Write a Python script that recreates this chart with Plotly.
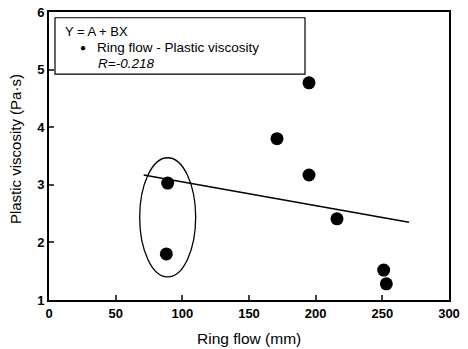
import plotly.graph_objects as go

ring_flow = [88, 89, 171, 195, 195, 216, 251, 253]
plastic_visc = [1.80, 3.03, 3.80, 4.77, 3.17, 2.41, 1.52, 1.28]

fit_x = [71, 270]
fit_y = [3.17, 2.35]

x_ticks = [0, 50, 100, 150, 200, 250, 300]
y_ticks = [1, 2, 3, 4, 5, 6]

FONT = "Liberation Sans, Arial, sans-serif"

fig = go.Figure()
fig.add_trace(go.Scatter(x=fit_x, y=fit_y, mode="lines",
                         line=dict(color="black", width=1.5), showlegend=False))
fig.add_trace(go.Scatter(x=ring_flow, y=plastic_visc, mode="markers",
                         marker=dict(color="black", size=13), showlegend=False))

# ellipse around the two low-flow points
fig.add_shape(type="circle", xref="x", yref="y", x0=68, x1=110, y0=1.40, y1=3.47,
              line=dict(color="black", width=1.3))
# legend box
fig.add_shape(type="rect", xref="x", yref="y", x0=4.5, x1=192, y0=4.92, y1=5.90,
              line=dict(color="black", width=1.2), fillcolor="white")

fig.add_annotation(x=10.5, y=5.67, xref="x", yref="y", text="Y = A + BX", showarrow=False,
                   xanchor="left", font=dict(family=FONT, size=13, color="black"))
fig.add_annotation(x=25.5, y=5.38, xref="x", yref="y", text="●", showarrow=False,
                   xanchor="center", font=dict(family=FONT, size=10, color="black"))
fig.add_annotation(x=34.5, y=5.38, xref="x", yref="y", text="Ring flow - Plastic viscosity",
                   showarrow=False, xanchor="left", font=dict(family=FONT, size=13.5, color="black"))
fig.add_annotation(x=35, y=5.10, xref="x", yref="y", text="<i>R=-0.218</i>", showarrow=False,
                   xanchor="left", font=dict(family=FONT, size=13.5, color="black"))

# axis titles
fig.add_annotation(x=0.5, y=-0.132, xref="paper", yref="paper", text="Ring flow (mm)",
                   showarrow=False, xanchor="center", yanchor="middle",
                   font=dict(family=FONT, size=15.5, color="black"))
fig.add_annotation(x=-0.085, y=0.524, xref="paper", yref="paper", text="Plastic viscosity (Pa·s)",
                   showarrow=False, xanchor="center", yanchor="middle", textangle=-90,
                   font=dict(family=FONT, size=15, color="black"))

fig.update_layout(
    width=468, height=349,
    margin=dict(l=49, r=19, t=12, b=49, autoexpand=False),
    paper_bgcolor="white", plot_bgcolor="white",
    font=dict(family=FONT, size=13, color="black"),
    showlegend=False,
)
fig.update_xaxes(range=[0, 300], tickvals=x_ticks, ticks="inside", ticklen=5, tickwidth=2,
                 showline=True, linecolor="black", linewidth=2, mirror=True, showgrid=False,
                 zeroline=False, automargin=False,
                 tickfont=dict(size=13, weight="bold"))
fig.update_yaxes(range=[1, 6], tickvals=y_ticks, ticks="inside", ticklen=5, tickwidth=2,
                 showline=True, linecolor="black", linewidth=2, mirror=True, showgrid=False,
                 zeroline=False, automargin=False,
                 tickfont=dict(size=13, weight="bold"))

fig.write_html("out.html")
